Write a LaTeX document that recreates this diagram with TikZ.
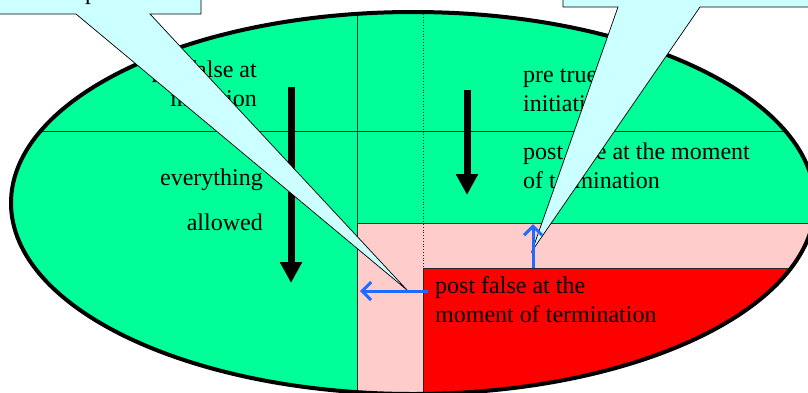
\documentclass[tikz,border=0pt]{standalone}
\usepackage{fontspec}
\setmainfont{Liberation Serif}
\usetikzlibrary{arrows.meta}
\definecolor{Mint}{HTML}{00FF99}
\definecolor{Rose}{HTML}{FFCCCC}
\definecolor{Alarm}{HTML}{FF0000}
\definecolor{Bubble}{HTML}{CCFFFF}
\definecolor{Pointer}{HTML}{1F6BFF}

\begin{document}
\begin{tikzpicture}[
  x=1pt,y=-1pt,
  note/.style={font=\fontsize{24}{29}\selectfont,inner sep=0pt,align=left},
  grid/.style={line width=0.8pt,draw=black!85},
  flow/.style={line width=7pt,-{Triangle[width=21pt,length=21pt]}},
  move/.style={line width=3pt,draw=Pointer,-{Straight Barb[length=9pt,width=18pt]}},
  bubble/.style={fill=Bubble,draw=black,line width=0.7pt}
]
\useasboundingbox (0,0) rectangle (808,392);
\coordinate (c) at (413,203);
% the state space
\fill[Mint] (c) ellipse [x radius=402pt,y radius=191pt];
\begin{scope}
  \clip (c) ellipse [x radius=402pt,y radius=191pt];
  \fill[Rose] (357,223) rectangle (840,420);
  \fill[Alarm] (423,268) rectangle (840,420);
  \draw[grid] (357,0) -- (357,420);
  \draw[grid] (0,131) -- (840,131);
  \draw[grid] (357,223) -- (840,223);
  \draw[grid,dotted] (423,0) -- (423,268);
  \draw[grid] (423,420) -- (423,268) -- (840,268);
\end{scope}
\draw[line width=4pt] (c) ellipse [x radius=402pt,y radius=191pt];

% base anchor sits on the last line
\node[note,align=right,anchor=base east] (prefalse) at (257,106) {pre false at\\initiation};
\node[note,anchor=base east] (every) at (263,185) {everything};
\node[note,anchor=base east] (allow) at (263,230) {allowed};
\node[note,anchor=base west] (pretrue) at (523,111) {pre true at\\initiation};
\node[note,anchor=base west] (posttrue) at (523,188) {post true at the moment\\of termination};
\node[note,anchor=base west] (postfalse) at (435,322) {post false at the\\moment of termination};

\coordinate (d1) at (291,87);
\coordinate (d1e) at (291,283);
\coordinate (d2) at (467,90);
\coordinate (d2e) at (467,195);
\draw[flow] (d1) -- (d1e);
\draw[flow] (d2) -- (d2e);

% callouts
\coordinate (tipl) at (407,290);
\coordinate (tipr) at (532,251);
\draw[bubble] (-20,-40) -- (201,-40) -- (201,14) -- (150,14) -- (tipl)
  -- (76,14) -- (-20,14) -- cycle;
\node[note,anchor=base west] (hidden) at (85,-1) {p};
\draw[bubble] (563,-40) -- (840,-40) -- (840,7) -- (700,7) -- (tipr)
  -- (618,7) -- (563,7) -- cycle;

\coordinate (ls) at (428,291);
\coordinate (le) at (360,291);
\coordinate (us) at (533,268);
\coordinate (ue) at (533,224);
\draw[move] (ls) -- (le);
\draw[move] (us) -- (ue);
\end{tikzpicture}
\end{document}
